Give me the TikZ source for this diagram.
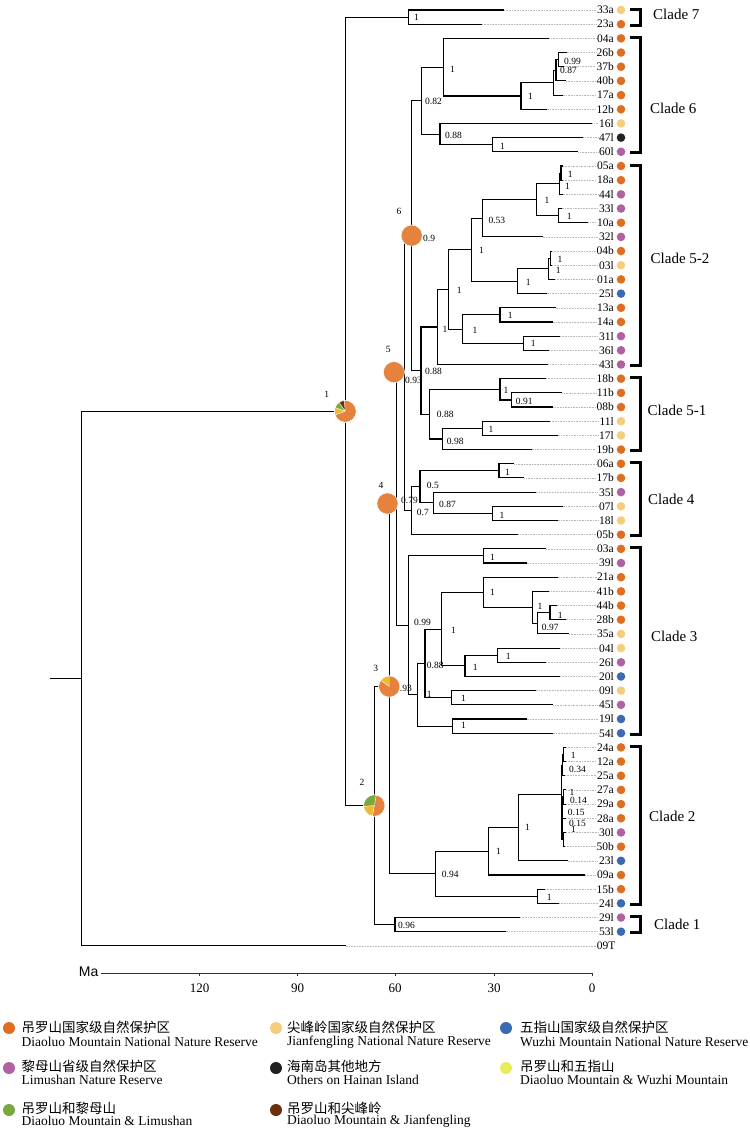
\documentclass[tikz,border=0pt]{standalone}
\usepackage{fontspec}
\setmainfont{Liberation Serif}
\setsansfont{Liberation Sans}
\newfontfamily\cjk{Noto Sans CJK SC}

\definecolor{DO}{RGB}{224,110,32}
\definecolor{DOp}{RGB}{228,130,62}
\definecolor{JF}{RGB}{244,206,122}
\definecolor{JFp}{RGB}{240,186,48}
\definecolor{WZ}{RGB}{58,106,178}
\definecolor{LM}{RGB}{178,96,164}
\definecolor{HN}{RGB}{34,34,34}
\definecolor{DW}{RGB}{232,236,92}
\definecolor{DL}{RGB}{120,168,62}
\definecolor{DJ}{RGB}{108,46,12}

\tikzset{
  br/.style={line width=1.1pt},
  leader/.style={gray!55, line width=0.5pt, dash pattern=on 0.7pt off 0.9pt},
  tiplab/.style={anchor=east, inner sep=0.8pt, font=\fontsize{11.5}{12}\selectfont},
  sup/.style={anchor=west, inner sep=0pt, font=\fontsize{9.5}{10}\selectfont},
  pielab/.style={inner sep=0pt, font=\fontsize{9.5}{10}\selectfont},
  brk/.style={line width=3pt},
  cladelab/.style={anchor=west, inner sep=0pt, font=\fontsize{15}{16}\selectfont},
  legtxt/.style={anchor=west, inner sep=0pt, font=\fontsize{13.5}{14}\selectfont},
  ticklab/.style={inner sep=0pt, font=\fontsize{13}{14}\selectfont},
}

% centre, radius, slices start/end/colour
\newcommand{\pieslices}[3]{%
  \foreach \a/\b/\c in {#3}
    \fill[\c, draw=white, line width=0.3pt] (#1) -- ++(\a:#2pt) arc[start angle=\a, end angle=\b, radius=#2pt] -- cycle;
  \draw[white, line width=0.5pt] (#1) circle (#2pt);
}

\begin{document}
\begin{tikzpicture}[x=1pt, y=-1pt]
\path[use as bounding box, fill=white] (0,0) rectangle (750,1128);

% tips
\foreach \nm/\i/\e/\c in {33a/0/504/JF, 23a/1/482/DO, 04a/2/549.3/DO, 26b/3/566.7/DO, 37b/4/564/DO,
  40b/5/566/DO, 17a/6/562.7/DO, 12b/7/546.7/DO, 16l/8/592.3/JF, 47l/9/583.3/HN, 60l/10/578.3/LM,
  05a/11/563/DO, 18a/12/563/DO, 44l/13/562.5/LM, 33l/14/561.7/LM, 10a/15/588.3/DO, 32l/16/542.7/LM,
  04b/17/552/DO, 03l/18/552/JF, 01a/19/555/DO, 25l/20/546.7/WZ, 13a/21/555.7/DO, 14a/22/552.7/DO,
  31l/23/560/LM, 36l/24/549/LM, 43l/25/548.3/LM, 18b/26/546/DO, 11b/27/562.3/DO, 08b/28/553.3/DO,
  11l/29/550/JF, 17l/30/557.7/JF, 19b/31/531.7/DO, 06a/32/514.3/DO, 17b/33/524.3/DO, 35l/34/535.7/LM,
  07l/35/562.7/JF, 18l/36/557.7/JF, 05b/37/518.3/DO, 03a/38/546/DO, 39l/39/526.7/LM, 21a/40/557.7/DO,
  41b/41/549.3/DO, 44b/42/556.7/DO, 28b/43/565.7/DO, 35a/44/569/JF, 04l/45/560/JF, 26l/46/546/LM,
  20l/47/560/WZ, 09l/48/535.7/JF, 45l/49/553.3/LM, 19l/50/526.7/WZ, 54l/51/552.7/WZ, 24a/52/566/DO,
  12a/53/566/DO, 25a/54/565/DO, 27a/55/566/DO, 29a/56/566/DO, 28a/57/566/DO, 30l/58/566/LM,
  50b/59/565/DO, 23l/60/567.7/WZ, 09a/61/585/DO, 15b/62/545/DO, 24l/63/559/WZ, 29l/64/520/LM,
  53l/65/505.7/WZ} {
  \coordinate (t\nm) at (\e,{10+14.18*\i});
  \node[tiplab] (l\nm) at (614.8,{10+14.18*\i}) {\nm};
  \draw[leader] (t\nm) -- (l\nm.west);
  \fill[\c] (621,{10+14.18*\i}) circle (4.3pt);
}
\coordinate (t09T) at (345.7,945.88);
\node[tiplab] (l09T) at (616.5,945.88) {09T};
\draw[leader] (t09T) -- (l09T.west);

% clade 7 and 6
\coordinate (c7) at (408.3,17.09);
\coordinate (a6) at (558.3,59.63);
\coordinate (b6) at (556,70.27);
\coordinate (d6) at (553.3,82.67);
\coordinate (e6) at (521,95.97);
\coordinate (f6) at (443.3,67.16);
\coordinate (g6) at (492.3,144.71);
\coordinate (h6) at (440,134.07);
\coordinate (c6) at (421.7,100.62);
\draw[br] (t33a) -| (c7) |- (t23a);
\draw[br] (t26b) -| (a6) |- (t37b);
\draw[br] (a6) -| (b6) |- (t40b);
\draw[br] (b6) -| (d6) |- (t17a);
\draw[br] (d6) -| (e6) |- (t12b);
\draw[br] (t04a) -| (f6) |- (e6);
\draw[br] (t47l) -| (g6) |- (t60l);
\draw[br] (t16l) -| (h6) |- (g6);
\draw[br] (f6) -| (c6) |- (h6);

% clade 5-2
\coordinate (k1) at (561,173.07);
\coordinate (k2) at (559.3,183.71);
\coordinate (k3) at (558.3,215.61);
\coordinate (k4) at (536.7,199.66);
\coordinate (k5) at (482.7,218.27);
\coordinate (k6) at (550.7,258.15);
\coordinate (k7) at (548.3,268.79);
\coordinate (k8) at (517.7,281.19);
\coordinate (k9) at (471.7,249.73);
\coordinate (k10) at (500,314.87);
\coordinate (k11) at (523.3,343.23);
\coordinate (k12) at (462.7,329.05);
\coordinate (k13) at (448.3,289.39);
\coordinate (c52) at (437.3,326.95);
\draw[br] (t05a) -| (k1) |- (t18a);
\draw[br] (k1) -| (k2) |- (t44l);
\draw[br] (t33l) -| (k3) |- (t10a);
\draw[br] (k2) -| (k4) |- (k3);
\draw[br] (k4) -| (k5) |- (t32l);
\draw[br] (t04b) -| (k6) |- (t03l);
\draw[br] (k6) -| (k7) |- (t01a);
\draw[br] (k7) -| (k8) |- (t25l);
\draw[br] (k5) -| (k9) |- (k8);
\draw[br] (t13a) -| (k10) |- (t14a);
\draw[br] (t31l) -| (k11) |- (t36l);
\draw[br] (k10) -| (k12) |- (k11);
\draw[br] (k9) -| (k13) |- (k12);
\draw[br] (k13) -| (c52) |- (t43l);

% clade 5-1
\coordinate (m1) at (511.7,399.95);
\coordinate (m2) at (500,389.32);
\coordinate (m3) at (482.3,428.31);
\coordinate (m4) at (442.3,438.95);
\coordinate (c51) at (429.3,414.14);
\coordinate (c5) at (421,370.55);
\coordinate (n6) at (411.7,235.59);
\draw[br] (t11b) -| (m1) |- (t08b);
\draw[br] (t18b) -| (m2) |- (m1);
\draw[br] (t11l) -| (m3) |- (t17l);
\draw[br] (m3) -| (m4) |- (t19b);
\draw[br] (m2) -| (c51) |- (m4);
\draw[br] (c52) -| (c5) |- (c51);
\draw[br] (c6) -| (n6) |- (c5);

% clade 4
\coordinate (r1) at (499,470.85);
\coordinate (r2) at (492.7,513.39);
\coordinate (r3) at (433.3,502.76);
\coordinate (r4) at (420,486.81);
\coordinate (c4) at (411.7,510.74);
\coordinate (n5) at (404.3,373.17);
\draw[br] (t06a) -| (r1) |- (t17b);
\draw[br] (t07l) -| (r2) |- (t18l);
\draw[br] (t35l) -| (r3) |- (r2);
\draw[br] (r1) -| (r4) |- (r3);
\draw[br] (r4) -| (c4) |- (t05b);
\draw[br] (n6) -| (n5) |- (c4);

% clade 3
\coordinate (s1) at (483.3,555.93);
\coordinate (s2) at (550,612.65);
\coordinate (s3) at (537.7,623.29);
\coordinate (s4) at (532.7,607.34);
\coordinate (s5) at (483.3,592.27);
\coordinate (s6) at (497.7,655.19);
\coordinate (s7) at (465,665.83);
\coordinate (s8) at (441.7,629.05);
\coordinate (s9) at (451.7,697.73);
\coordinate (s10) at (425,663.39);
\coordinate (s11) at (452.7,726.09);
\coordinate (s12) at (417.7,694.74);
\coordinate (c3) at (408.3,625.34);
\coordinate (n4) at (396.7,499.26);
\draw[br] (t03a) -| (s1) |- (t39l);
\draw[br] (t44b) -| (s2) |- (t28b);
\draw[br] (s2) -| (s3) |- (t35a);
\draw[br] (t41b) -| (s4) |- (s3);
\draw[br] (t21a) -| (s5) |- (s4);
\draw[br] (t04l) -| (s6) |- (t26l);
\draw[br] (s6) -| (s7) |- (t20l);
\draw[br] (s5) -| (s8) |- (s7);
\draw[br] (t09l) -| (s9) |- (t45l);
\draw[br] (s8) -| (s10) |- (s9);
\draw[br] (t19l) -| (s11) |- (t54l);
\draw[br] (s10) -| (s12) |- (s11);
\draw[br] (s1) -| (c3) |- (s12);
\draw[br] (n5) -| (n4) |- (c3);

% clade 2 and 1
\coordinate (u1) at (563.5,754.45);
\coordinate (u2) at (562.5,765.09);
\coordinate (u3) at (563.5,796.99);
\coordinate (u4) at (562.7,807.63);
\coordinate (u5) at (563.5,839.53);
\coordinate (u6) at (562,823.58);
\coordinate (u7) at (561.5,794.34);
\coordinate (u8) at (518.3,827.57);
\coordinate (u9) at (488.3,851.28);
\coordinate (u10) at (537.3,896.25);
\coordinate (c2) at (435.7,873.77);
\coordinate (n3) at (389.3,686.52);
\coordinate (c1) at (395,924.61);
\coordinate (n2) at (374.3,805.57);
\coordinate (n1) at (345.3,411.33);
\coordinate (root) at (81.5,678.61);
\coordinate (stub) at (50,678.61);
\draw[br] (t24a) -| (u1) |- (t12a);
\draw[br] (u1) -| (u2) |- (t25a);
\draw[br] (t27a) -| (u3) |- (t29a);
\draw[br] (u3) -| (u4) |- (t28a);
\draw[br] (t30l) -| (u5) |- (t50b);
\draw[br] (u4) -| (u6) |- (u5);
\draw[br] (u2) -| (u7) |- (u6);
\draw[br] (u7) -| (u8) |- (t23l);
\draw[br] (u8) -| (u9) |- (t09a);
\draw[br] (t15b) -| (u10) |- (t24l);
\draw[br] (u9) -| (c2) |- (u10);
\draw[br] (n4) -| (n3) |- (c2);
\draw[br] (t29l) -| (c1) |- (t53l);
\draw[br] (n3) -| (n2) |- (c1);
\draw[br] (c7) -| (n1) |- (n2);
\draw[br] (n1) -| (root) |- (t09T);
\draw[br] (root) -- (stub);

% support values
\foreach \x/\y/\t [count=\k] in {414/17.3/1, 425/101.7/0.82, 450/69/1, 528/96.7/1, 564/61.7/0.99,
  560/70.7/0.87, 445/135/0.88, 500/146.7/1, 423/238/0.9, 567.7/174.3/1, 565/186/1, 544.3/200/1,
  566.7/216/1, 488.3/220/0.53, 479/250.7/1, 557.3/259/1, 555.7/270/1, 525.7/282.3/1, 456.7/290.7/1,
  472.3/330.7/1, 507.7/315.7/1, 530.7/343.3/1, 442.3/329.3/1, 425/371.5/0.88, 405/380/0.93,
  503.3/390/1, 515.7/401.7/0.91, 436.7/414.3/0.88, 488.3/429.3/1, 446.7/441.7/0.98, 505/472.3/1,
  426.7/485.7/0.5, 439/504.3/0.87, 499.3/515/1, 416.7/512.3/0.7, 401/500/0.79, 490/557.3/1,
  490/592.3/1, 537.3/606.7/1, 557.7/615/1, 541.7/627.7/0.97, 414/622.7/0.99, 451/630/1,
  505.7/656/1, 472.7/667.3/1, 426.7/665.7/0.88, 426.7/694/1, 461/698.3/1, 461/725.7/1,
  395/688/0.93, 570.7/755.7/1, 569/769.3/0.34, 569.3/792.3/1, 570/800/0.14, 567.7/812.3/0.15,
  569/823.3/0.15, 571/829.3/1, 525/827.3/1, 496/851/1, 441.7/874/0.94, 546.7/897.7/1, 398/925/0.96}
  \node[sup] (bs\k) at (\x,\y) {\t};

% ancestral areas
\pieslices{n1}{11}{95/125/DJ, 125/160/DL, 160/200/JFp, 200/455/DOp}
\pieslices{n2}{10.8}{-100/80/DOp, 80/185/DL, 185/260/JFp}
\pieslices{n3}{10.7}{90/145/JFp, 145/450/DOp}
\coordinate (p4) at (387.5,503.5);
\coordinate (p5) at (394,372.2);
\foreach \p in {p4,p5,n6}
  \fill[DOp, draw=white, line width=0.5pt] (\p) circle (10.6pt);
\foreach \x/\y/\t in {326.7/394/1, 362/782/2, 375.7/668/3, 381/485.7/4, 388.3/349/5, 399/211/6}
  \node[pielab] (pl\t) at (\x,\y) {\t};

% clades
\foreach \ya/\yb in {9/25.2, 37.4/152.8, 165/365.5, 377.7/450.6, 462.8/535.7, 547.8/734.2,
  746.4/904.3, 916.5/932.7}
  \draw[brk] (630,\ya) -- (640,\ya) -- (640,\yb) -- (630,\yb);
\foreach \x/\y/\t [count=\k] in {653/14/Clade 7, 650/108/Clade 6, 650.5/258/Clade 5-2,
  647.5/410.5/Clade 5-1, 648/499.5/Clade 4, 651/636.5/Clade 3, 649/816.5/Clade 2, 654/924/Clade 1}
  \node[cladelab] (cl\k) at (\x,\y) {\t};

% time axis
\coordinate (ax0) at (101,973);
\coordinate (ax1) at (592,973);
\draw[line width=0.9pt, black!80] (ax0) -- (ax1);
\node[anchor=east, inner sep=0pt, font=\sffamily\fontsize{14}{15}\selectfont] (ma) at (98.5,972) {Ma};
\foreach \x/\t [count=\k] in {199.5/120, 297.6/90, 395/60, 494/30, 592/0} {
  \draw[line width=0.7pt, black!80] (\x,973) -- (\x,976);
  \node[ticklab] (tk\k) at (\x,988.5) {\t};
}

% legend
\foreach \dx/\tx/\dy/\zy/\ey/\c/\zh/\en [count=\k] in {
  9/21.5/1028/1027/1042/DO/吊罗山国家级自然保护区/Diaoluo Mountain National Nature Reserve,
  276/287/1028/1027/1042/JF/尖峰岭国家级自然保护区/Jianfengling National Nature Reserve,
  506/520/1028/1027/1042/WZ/五指山国家级自然保护区/Wuzhi Mountain National Nature Reserve,
  9/21.5/1068/1066/1080/LM/黎母山省级自然保护区/Limushan Nature Reserve,
  276/287/1068/1066/1080/HN/海南岛其他地方/Others on Hainan Island,
  506/520/1068/1066/1080/DW/吊罗山和五指山/Diaoluo Mountain \& Wuzhi Mountain,
  9/21.5/1110/1108/1121/DL/吊罗山和黎母山/Diaoluo Mountain \& Limushan,
  276/287/1110/1108/1121/DJ/吊罗山和尖峰岭/Diaoluo Mountain \& Jianfengling} {
  \fill[\c] (\dx,\dy) circle (6pt);
  \node[legtxt] (lz\k) at (\tx,\zy) {\cjk\zh};
  \node[legtxt] (le\k) at (\tx,\ey) {\en};
}
\end{tikzpicture}
\end{document}
